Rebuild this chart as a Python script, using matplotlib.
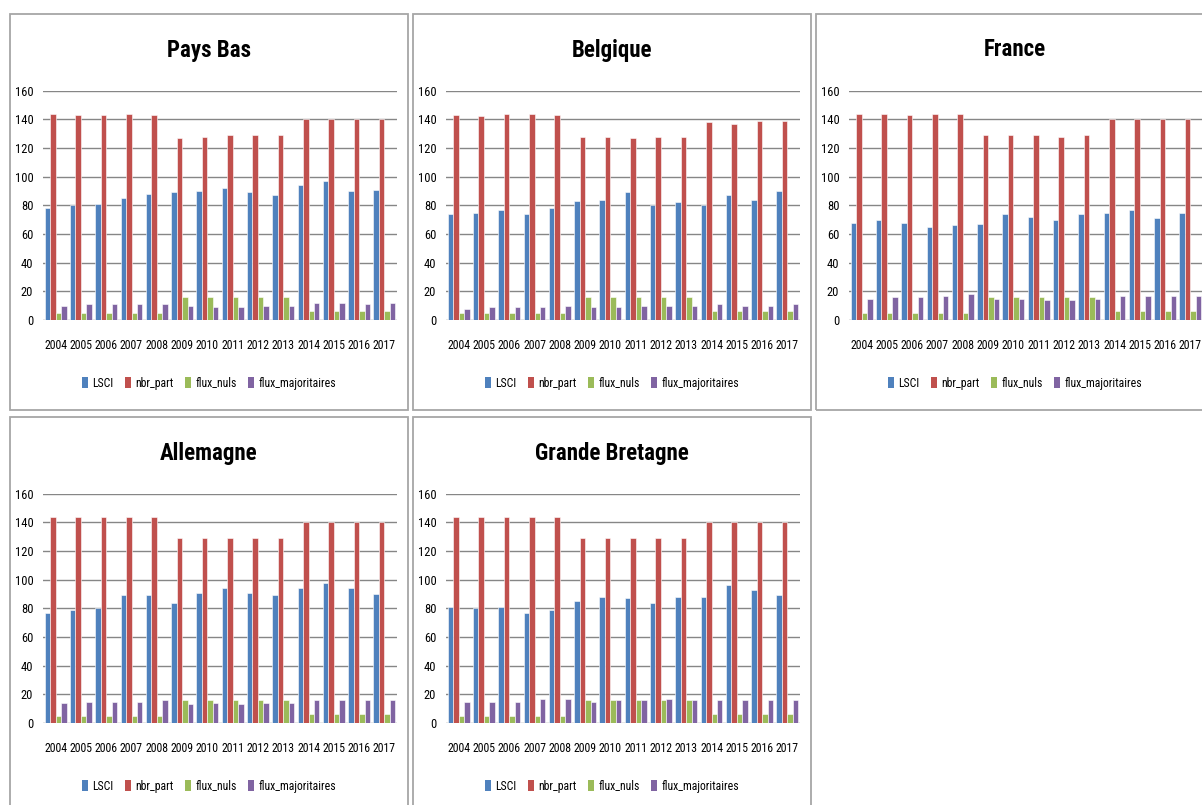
import matplotlib
matplotlib.use('Agg')
import matplotlib.pyplot as plt
from matplotlib import font_manager as fm
from matplotlib.patches import Rectangle, Patch
import numpy as np

# ---------------- data ----------------
years = ['2004', '2005', '2006', '2007', '2008', '2009', '2010',
         '2011', '2012', '2013', '2014', '2015', '2016', '2017']
series_names = ['LSCI', 'nbr_part', 'flux_nuls', 'flux_majoritaires']

pb_lsci = [78, 80, 81, 85, 88, 89, 90, 92, 89, 87, 94, 97, 90, 91]
pb_nbr = [144, 143, 143, 144, 143, 127, 128, 129, 129, 129, 140, 140, 140, 140]
pb_nuls = [5, 5, 5, 5, 5, 16, 16, 16, 16, 16, 6, 6, 6, 6]
pb_maj = [10, 11, 11, 11, 11, 10, 9, 9, 10, 10, 12, 12, 11, 12]

be_lsci = [74, 75, 77, 74, 78, 83, 84, 89, 80, 82, 80, 87, 84, 90]
be_nbr = [143, 142, 144, 144, 143, 128, 128, 127, 128, 128, 138, 137, 139, 139]
be_nuls = [5, 5, 5, 5, 5, 16, 16, 16, 16, 16, 6, 6, 6, 6]
be_maj = [8, 9, 9, 9, 10, 9, 9, 10, 10, 10, 11, 10, 10, 11]

fr_lsci = [68, 70, 68, 65, 66, 67, 74, 72, 70, 74, 75, 77, 71, 75]
fr_nbr = [144, 144, 143, 144, 144, 129, 129, 129, 128, 129, 140, 140, 140, 140]
fr_nuls = [5, 5, 5, 5, 5, 16, 16, 16, 16, 16, 6, 6, 6, 6]
fr_maj = [15, 16, 16, 17, 18, 15, 15, 14, 14, 15, 17, 17, 17, 17]

de_lsci = [77, 79, 80, 89, 89, 84, 91, 94, 91, 89, 94, 98, 94, 90]
de_nbr = [144, 144, 144, 144, 144, 129, 129, 129, 129, 129, 140, 140, 140, 140]
de_nuls = [5, 5, 5, 5, 5, 16, 16, 16, 16, 16, 6, 6, 6, 6]
de_maj = [14, 15, 15, 15, 16, 13, 14, 13, 14, 14, 16, 16, 16, 16]

gb_lsci = [81, 80, 81, 77, 79, 85, 88, 87, 84, 88, 88, 96, 93, 89]
gb_nbr = [144, 144, 144, 144, 144, 129, 129, 129, 129, 129, 140, 140, 140, 140]
gb_nuls = [5, 5, 5, 5, 5, 16, 16, 16, 16, 16, 6, 6, 6, 6]
gb_maj = [15, 15, 15, 17, 17, 15, 16, 16, 17, 16, 16, 16, 16, 16]

titles = ['Pays Bas', 'Belgique', 'France', 'Allemagne', 'Grande Bretagne']
y_ticks = [0, 20, 40, 60, 80, 100, 120, 140, 160]
colors = ['#4F81BD', '#C0504D', '#9BBB59', '#8064A2']

# ---------------- font ----------------
def pick(names):
    for n in names:
        try:
            fm.findfont(fm.FontProperties(family=n), fallback_to_default=False)
            return n
        except Exception:
            pass
    return 'DejaVu Sans'

FONT = pick(['Liberation Sans Narrow', 'Roboto Condensed', 'Liberation Sans'])
plt.rcParams['font.family'] = [FONT, 'DejaVu Sans']

# ---------------- layout ----------------
W, H = 1202, 805
fig = plt.figure(figsize=(W / 100, H / 100), dpi=100)
fig.patch.set_facecolor('white')

def fx(x):
    return x / W

def fy(y):
    return 1 - y / H

panels = [
    (titles[0], [pb_lsci, pb_nbr, pb_nuls, pb_maj], 10, 14),
    (titles[1], [be_lsci, be_nbr, be_nuls, be_maj], 413, 14),
    (titles[2], [fr_lsci, fr_nbr, fr_nuls, fr_maj], 816, 14),
    (titles[3], [de_lsci, de_nbr, de_nuls, de_maj], 10, 417),
    (titles[4], [gb_lsci, gb_nbr, gb_nuls, gb_maj], 413, 417),
]

PW, PH = 398, 396
x = np.arange(len(years))
bw = 0.215
offs = [-1.5, -0.5, 0.5, 1.5]

for name, data, ox, oy in panels:
    # panel border
    fig.patches.append(Rectangle((fx(ox), fy(oy + PH)), PW / W, PH / H,
                                 transform=fig.transFigure, fill=False,
                                 edgecolor='#a6a6a6', linewidth=1.3, zorder=0))
    # title
    fig.text(fx(ox + 199), fy(oy + 36), name, ha='center', va='center',
             fontsize=16.5, fontweight='bold', color='black')
    # plot area
    left, right, top, bottom = ox + 33, ox + 387, oy + 76.7, oy + 306
    ax = fig.add_axes([fx(left), fy(bottom), (right - left) / W, (bottom - top) / H])
    for k in range(4):
        ax.bar(x + offs[k] * bw, data[k], bw, color=colors[k],
               edgecolor='white', linewidth=0.4, zorder=3)
    ax.set_xlim(-0.5, len(years) - 0.5)
    ax.set_ylim(0, 160)
    ax.set_yticks(y_ticks)
    ax.set_xticks(x)
    ax.set_xticklabels(years)
    ax.yaxis.grid(True, color='#868686', linewidth=1.0, zorder=0)
    ax.set_axisbelow(True)
    for s in ax.spines.values():
        s.set_visible(False)
    ax.tick_params(axis='both', length=0, colors='black')
    ax.tick_params(axis='x', pad=13.5, labelsize=8.5)
    ax.tick_params(axis='y', pad=7, labelsize=9)
    ax.set_facecolor('none')
    # legend
    handles = [Patch(facecolor=c, edgecolor='none') for c in colors]
    fig.legend(handles, series_names, loc='center',
               bbox_to_anchor=(fx(ox + 199), fy(oy + 369)), ncol=4,
               frameon=False, fontsize=8.5, handlelength=0.5, handleheight=1.0,
               handletextpad=0.35, columnspacing=1.0, borderpad=0)

fig.savefig('out.png', dpi=100, facecolor='white')
